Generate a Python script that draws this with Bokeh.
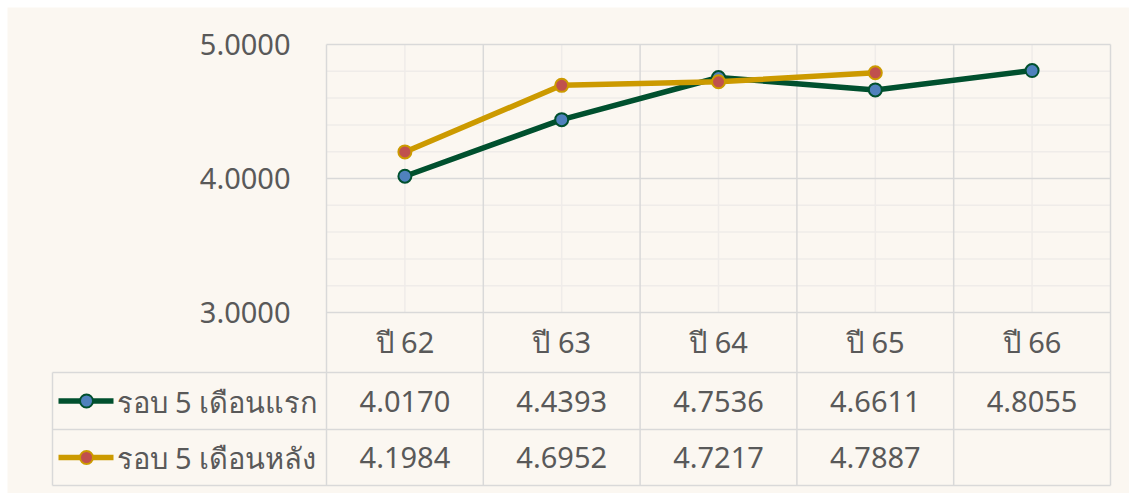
import numpy as np
from bokeh.plotting import figure
from bokeh.models import Range1d, ColumnDataSource
from bokeh.core.properties import value
from bokeh.embed import file_html
from bokeh.resources import INLINE

# ---- data ----
categories = ["ปี 62", "ปี 63", "ปี 64", "ปี 65", "ปี 66"]
series_names = ["รอบ 5 เดือนแรก", "รอบ 5 เดือนหลัง"]
first_half = [4.0170, 4.4393, 4.7536, 4.6611, 4.8055]
second_half = [4.1984, 4.6952, 4.7217, 4.7887, None]
y_ticks = [3.0, 4.0, 5.0]

# ---- styles ----
BG = "#FBF7F1"
TXT = "#595959"
GRID_D = "#D9D9D9"
GRID_L = "#EFECE9"
LINE_COLORS = ["#00502E", "#CC9A00"]
FILL_COLORS = ["#4F81BD", "#C0504D"]
FONT = "Noto Sans"
FS = "29px"
LW = 5.5

W, H = 1129, 493
EDGE = 7  # white strip at left/top
n = len(categories)
centers = [i + 0.5 for i in range(n)]
bounds = list(range(n + 1))

# layout (pixels of the reference picture)
PLOT_L, PLOT_R, PLOT_T, PLOT_B = 326, 1110, 44, 312
px_x = (PLOT_R - PLOT_L) / n
px_y = (PLOT_B - PLOT_T) / (y_ticks[-1] - y_ticks[0])
ymin, ymax = y_ticks[0], y_ticks[-1]

def dx(px):
    return (px - PLOT_L) / px_x

def dy(py):
    return ymax - (py - PLOT_T) / px_y

header_bot = dy(372)
row_edges = [header_bot, dy(429), dy(485)]
table_bot = row_edges[-1]
L = dx(52)

p = figure(width=W, height=H,
           x_range=Range1d(dx(EDGE), dx(W)),
           y_range=Range1d(dy(H), dy(EDGE)),
           output_backend="svg", toolbar_location=None,
           x_axis_location=None, y_axis_location=None,
           min_border_left=EDGE, min_border_right=0, min_border_top=EDGE, min_border_bottom=0)
p.background_fill_color = BG
p.border_fill_color = "white"
p.outline_line_color = None
p.grid.visible = False

# ---- grid lines ----
minor_y = [round(v, 1) for v in np.arange(ymin, ymax + 1e-9, 0.2) if round(v, 1) not in y_ticks]
# light: minor horizontals and category-centre verticals
p.segment(x0=[0] * len(minor_y), y0=minor_y, x1=[n] * len(minor_y), y1=minor_y,
          line_color=GRID_L, line_width=1.5)
p.segment(x0=centers, y0=[ymin] * n, x1=centers, y1=[ymax] * n,
          line_color=GRID_L, line_width=1.5)
# dark: major horizontals, category boundaries (down through the table), table rows
p.segment(x0=[0] * len(y_ticks), y0=y_ticks, x1=[n] * len(y_ticks), y1=y_ticks,
          line_color=GRID_D, line_width=1.5)
p.segment(x0=bounds, y0=[table_bot] * len(bounds), x1=bounds, y1=[ymax] * len(bounds),
          line_color=GRID_D, line_width=1.5)
p.segment(x0=[L] * len(row_edges), y0=row_edges, x1=[n] * len(row_edges), y1=row_edges,
          line_color=GRID_D, line_width=1.5)
p.segment(x0=[L], y0=[table_bot], x1=[L], y1=[header_bot],
          line_color=GRID_D, line_width=1.5)

# ---- y tick labels ----
p.text(x=[dx(290)] * len(y_ticks), y=y_ticks, text=[f"{v:.4f}" for v in y_ticks],
       text_align="right", text_baseline="middle",
       text_font=value(FONT), text_font_size=FS, text_color=TXT)

# ---- category labels ----
p.text(x=centers, y=[dy(341)] * n, text=categories, text_align="center", text_baseline="middle",
       text_font=value(FONT), text_font_size=FS, text_color=TXT)

# ---- series ----
series = [first_half, second_half]
for vals, lc, fc in zip(series, LINE_COLORS, FILL_COLORS):
    yv = [np.nan if v is None else v for v in vals]
    src = ColumnDataSource(dict(x=centers, y=yv))
    p.line("x", "y", source=src, line_color=lc, line_width=LW)
    p.scatter("x", "y", source=src, size=13, fill_color=fc, line_color=lc, line_width=2)

# ---- table values ----
row_centers = [(row_edges[r] + row_edges[r + 1]) / 2 for r in range(len(series))]
tx, ty, tt = [], [], []
for r, vals in enumerate(series):
    for i, v in enumerate(vals):
        if v is not None:
            tx.append(centers[i]); ty.append(row_centers[r]); tt.append(f"{v:.4f}")
p.text(x=tx, y=ty, text=tt, text_align="center", text_baseline="middle",
       text_font=value(FONT), text_font_size=FS, text_color=TXT)

# ---- legend keys + names ----
key_x0, key_x1, key_xm, name_x = dx(58), dx(113), dx(86), dx(116)
for r, (name, lc, fc) in enumerate(zip(series_names, LINE_COLORS, FILL_COLORS)):
    yc = row_centers[r]
    p.line([key_x0, key_x1], [yc, yc], line_color=lc, line_width=LW)
    p.scatter([key_xm], [yc], size=13, fill_color=fc, line_color=lc, line_width=2)
    p.text(x=[name_x], y=[yc], text=[name], text_align="left", text_baseline="middle",
           text_font=value(FONT), text_font_size=FS, text_color=TXT)

open("out.html", "w").write(file_html(p, INLINE))
